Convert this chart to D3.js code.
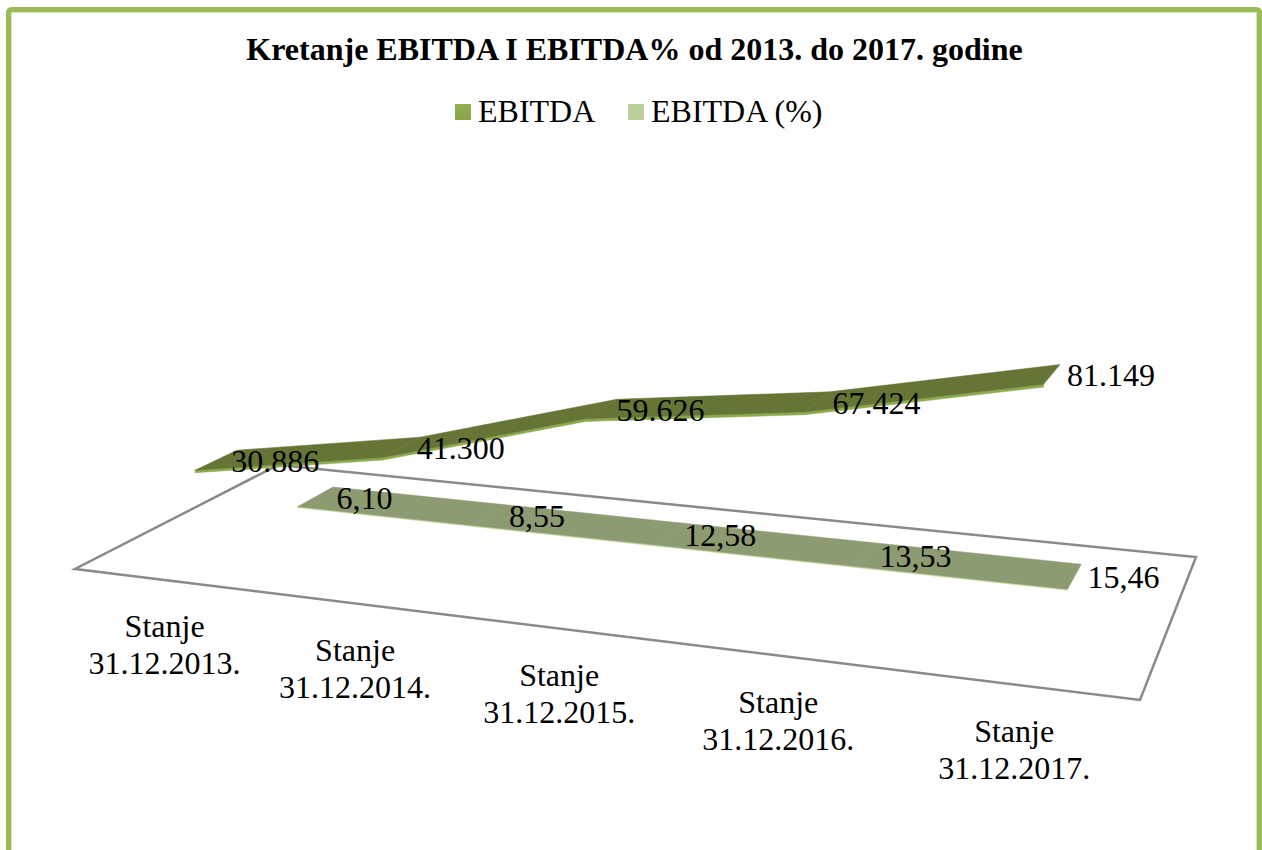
<!DOCTYPE html>
<html>
<head>
<meta charset="utf-8">
<script src="https://cdnjs.cloudflare.com/ajax/libs/d3/7.8.5/d3.min.js"></script>
<style>
  html, body { margin: 0; padding: 0; background: #fff; overflow: hidden; }
  text { font-family: "Liberation Serif", serif; fill: #000; }
</style>
</head>
<body>
<div id="chart"></div>
<script>
const categories = ["31.12.2013.", "31.12.2014.", "31.12.2015.", "31.12.2016.", "31.12.2017."];
const seriesNames = ["EBITDA", "EBITDA (%)"];
const ebitda = [30886, 41300, 59626, 67424, 81149];
const ebitdaPct = [6.10, 8.55, 12.58, 13.53, 15.46];

var width = 1262, height = 850;

var svg = d3.select("#chart").append("svg")
    .attr("width", width)
    .attr("height", height);

var defs = svg.append("defs");
var grad = defs.append("linearGradient").attr("id", "swatch1")
    .attr("x1", 0).attr("y1", 0).attr("x2", 0).attr("y2", 1);
grad.append("stop").attr("offset", "0%").attr("stop-color", "#93b052");
grad.append("stop").attr("offset", "100%").attr("stop-color", "#87a44a");

// the outer frame of the chart, runs off the bottom of the page
svg.append("rect")
    .attr("x", 8.5).attr("y", 9.5)
    .attr("width", 1251).attr("height", 900)
    .attr("rx", 3)
    .attr("fill", "#fff")
    .attr("stroke", "#9bbb59")
    .attr("stroke-width", 5);
svg.append("rect")
    .attr("x", 11.5).attr("y", 12.5)
    .attr("width", 1245).attr("height", 900)
    .attr("fill", "none")
    .attr("stroke", "#d6e3bc")
    .attr("stroke-width", 1);

// scales, all in floor units: u runs along the categories, w runs front to back
var u = d3.scalePoint().domain(categories).range([0.1, 0.9]);
var w = d3.scaleBand().domain(seriesNames).range([0, 1])
    .paddingInner(0.6).paddingOuter(0.3);
var lift = d3.scaleLinear().domain([0, 100000]).range([0, 299]);

// where the floor's corners land in the picture
var floorCorners = {fl: [75, 569], fr: [1140, 700], br: [1196, 557], bl: [278, 465]};

// square to quad homography for the floor
function makeProjection(q) {
  var dx1 = q.fr[0] - q.br[0], dx2 = q.bl[0] - q.br[0];
  var dy1 = q.fr[1] - q.br[1], dy2 = q.bl[1] - q.br[1];
  var sx = q.fl[0] - q.fr[0] + q.br[0] - q.bl[0];
  var sy = q.fl[1] - q.fr[1] + q.br[1] - q.bl[1];
  var det = dx1 * dy2 - dx2 * dy1;
  var g = (sx * dy2 - dx2 * sy) / det;
  var h = (dx1 * sy - sx * dy1) / det;
  var a = q.fr[0] - q.fl[0] + g * q.fr[0];
  var b = q.bl[0] - q.fl[0] + h * q.bl[0];
  var d = q.fr[1] - q.fl[1] + g * q.fr[1];
  var e = q.bl[1] - q.fl[1] + h * q.bl[1];
  return function(uu, ww, up) {
    var den = g * uu + h * ww + 1;
    var x = (a * uu + b * ww + q.fl[0]) / den;
    var y = (d * uu + e * ww + q.fl[1]) / den;
    var l = up / den;
    // verticals spread apart a little going up, we look from above
    return [x + (x - 548) * l / 8750, y - l];
  };
}
var project = makeProjection(floorCorners);
var line = d3.line();

// floor
svg.append("path")
    .attr("d", line([project(0, 0, 0), project(1, 0, 0), project(1, 1, 0), project(0, 1, 0)]) + "Z")
    .attr("fill", "none")
    .attr("stroke", "#8a8a8a")
    .attr("stroke-width", 2.5)
    .attr("stroke-linejoin", "miter");

function drawRibbon(name, values, topFill, sideFill, thick) {
  var w0 = w(name), w1 = w0 + w.bandwidth();
  var g = svg.append("g");
  d3.pairs(categories.map((c, i) => ({c: c, v: values[i]}))).forEach(function(p) {
    var a = p[0], b = p[1];
    // front face first, thin strip under the top
    g.append("path")
      .attr("d", line([
        project(u(a.c), w0, lift(a.v)), project(u(b.c), w0, lift(b.v)),
        project(u(b.c), w0, lift(b.v) - thick), project(u(a.c), w0, lift(a.v) - thick)
      ]) + "Z")
      .attr("fill", sideFill).attr("stroke", sideFill).attr("stroke-width", 0.5);
    g.append("path")
      .attr("d", line([
        project(u(a.c), w0, lift(a.v)), project(u(b.c), w0, lift(b.v)),
        project(u(b.c), w1, lift(b.v)), project(u(a.c), w1, lift(a.v))
      ]) + "Z")
      .attr("fill", topFill).attr("stroke", topFill).attr("stroke-width", 0.5);
  });
}

drawRibbon("EBITDA (%)", ebitdaPct, "#8c9b72", "#c8dba0", 1);
drawRibbon("EBITDA", ebitda, "#647536", "#8dab4c", 2.5);

// number labels
var hr = d3.formatLocale({decimal: ",", thousands: ".", grouping: [3], currency: ["", ""]});

function drawLabels(name, values, fmt, dx) {
  var mid = w(name) + w.bandwidth() / 2;
  svg.append("g").selectAll("text")
    .data(categories)
    .enter()
    .append("text")
      .attr("x", (d, i) => project(u(d), mid, lift(values[i]))[0] + dx)
      .attr("y", (d, i) => project(u(d), mid, lift(values[i]))[1] + 12)
      .attr("text-anchor", "middle")
      .style("font-size", "32px")
      .text((d, i) => fmt(values[i]));
}
drawLabels("EBITDA", ebitda, hr.format(",d"), 59);
drawLabels("EBITDA (%)", ebitdaPct, hr.format(".2f"), 49);

// category labels under the front edge
var catLabels = svg.append("g").selectAll("text")
    .data(categories)
    .enter()
    .append("text")
      .attr("text-anchor", "middle")
      .style("font-size", "32px");
catLabels.append("tspan")
    .attr("x", d => project(u(d), 0, 0)[0] - 1)
    .attr("y", d => project(u(d), 0, 0)[1] + 57)
    .text("Stanje");
catLabels.append("tspan")
    .attr("x", d => project(u(d), 0, 0)[0] - 1)
    .attr("y", d => project(u(d), 0, 0)[1] + 94)
    .text(d => d);

// title
svg.append("text")
    .attr("x", 634.5).attr("y", 60)
    .attr("text-anchor", "middle")
    .style("font-size", "32px")
    .style("font-weight", "bold")
    .text("Kretanje EBITDA I EBITDA% od 2013. do 2017. godine");

// legend
var legendX = d3.scaleOrdinal().domain(seriesNames).range([455, 628]);
var legendFill = d3.scaleOrdinal().domain(seriesNames).range(["url(#swatch1)", "#bcd098"]);
var legend = svg.append("g").selectAll("g")
    .data(seriesNames)
    .enter()
    .append("g")
      .attr("transform", d => "translate(" + legendX(d) + ",104)");
legend.append("rect")
    .attr("width", 16).attr("height", 16)
    .attr("fill", d => legendFill(d));
legend.append("text")
    .attr("x", 23).attr("y", 18)
    .style("font-size", "32px")
    .text(d => d);
</script>
</body>
</html>
